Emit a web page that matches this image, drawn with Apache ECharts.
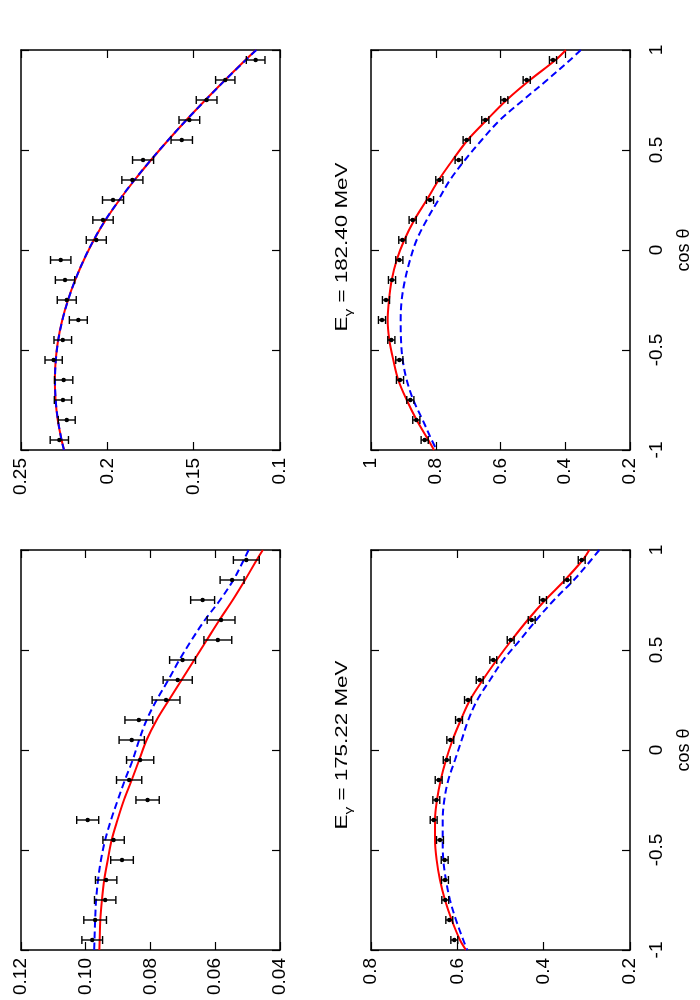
<!DOCTYPE html>
<html><head><meta charset="utf-8">
<script src="https://cdn.jsdelivr.net/npm/echarts@6/dist/echarts.min.js"></script>
<style>html,body{margin:0;padding:0;background:#fff}#c{width:700px;height:1000px}</style>
</head><body><div id="c"></div><script>
// measured points: cos(theta) positions
const cosPoints = [0.95, 0.85, 0.75, 0.65, 0.55, 0.45, 0.35, 0.25, 0.15, 0.05, -0.05, -0.15, -0.25, -0.35, -0.45, -0.55, -0.65, -0.75, -0.85, -0.95];
// curve sample positions
const curveCos = [1, 0.95, 0.85, 0.75, 0.65, 0.55, 0.45, 0.35, 0.25, 0.15, 0.05, -0.05, -0.15, -0.25, -0.35, -0.45, -0.55, -0.65, -0.75, -0.85, -0.95, -1];

// Panel A (top, upper in picture)
const dataA = [0.1141, 0.1317, 0.1425, 0.1525, 0.1569, 0.1793, 0.1855, 0.1967, 0.2025, 0.2064, 0.2270, 0.2245, 0.2235, 0.2168, 0.2258, 0.2311, 0.2253, 0.2257, 0.2235, 0.2278];
const errA = [0.0054, 0.0056, 0.0060, 0.0060, 0.0062, 0.0061, 0.0061, 0.0061, 0.0059, 0.0058, 0.0059, 0.0056, 0.0055, 0.0052, 0.0051, 0.0050, 0.0053, 0.0050, 0.0049, 0.0053];
const redA = [0.1139, 0.1200, 0.1318, 0.1432, 0.1542, 0.1647, 0.1747, 0.1842, 0.1930, 0.2010, 0.2078, 0.2136, 0.2186, 0.2228, 0.2261, 0.2285, 0.2299, 0.2304, 0.2300, 0.2287, 0.2265, 0.2250];
const blueA = [0.1137, 0.1198, 0.1317, 0.1431, 0.1542, 0.1647, 0.1748, 0.1843, 0.1931, 0.2011, 0.2079, 0.2137, 0.2186, 0.2227, 0.2260, 0.2284, 0.2298, 0.2303, 0.2299, 0.2286, 0.2265, 0.2251];

// Panel B (E_gamma = 182.40 MeV)
const dataB = [0.4378, 0.5191, 0.5882, 0.6469, 0.7045, 0.7292, 0.7889, 0.8178, 0.8713, 0.9032, 0.9125, 0.9351, 0.9537, 0.9660, 0.9372, 0.9125, 0.9104, 0.8785, 0.8600, 0.8342];
const errB = [0.011, 0.011, 0.011, 0.011, 0.011, 0.011, 0.011, 0.011, 0.011, 0.011, 0.011, 0.011, 0.011, 0.011, 0.011, 0.011, 0.011, 0.011, 0.011, 0.011];
const redB = [0.398, 0.430, 0.509, 0.581, 0.6426, 0.7013, 0.7477, 0.7909, 0.828, 0.8662, 0.8971, 0.9206, 0.936, 0.9444, 0.9485, 0.9434, 0.9311, 0.9157, 0.8897, 0.859, 0.8229, 0.8054];
const blueB = [0.352, 0.385, 0.456, 0.5296, 0.6015, 0.658, 0.7097, 0.756, 0.792, 0.828, 0.859, 0.8795, 0.895, 0.9052, 0.9083, 0.9073, 0.9021, 0.8897, 0.8693, 0.8403, 0.8125, 0.797];

// Panel C (top, lower in picture)
const dataC = [0.0504, 0.0548, 0.0639, 0.0582, 0.0592, 0.0701, 0.0716, 0.0752, 0.0836, 0.0858, 0.0832, 0.0866, 0.0809, 0.0994, 0.0914, 0.0888, 0.0937, 0.0940, 0.0971, 0.0980];
const errC = [0.0040, 0.0037, 0.0037, 0.0043, 0.0043, 0.0040, 0.0045, 0.0043, 0.0043, 0.0039, 0.0042, 0.0039, 0.0036, 0.0034, 0.0033, 0.0035, 0.0033, 0.0033, 0.0035, 0.0032];
const redC = [0.0453, 0.0472, 0.0508, 0.0546, 0.0587, 0.0626, 0.0665, 0.0704, 0.0743, 0.0781, 0.0812, 0.0835, 0.0858, 0.0882, 0.0902, 0.0920, 0.0932, 0.0943, 0.0950, 0.0955, 0.0957, 0.0958];
const blueC = [0.0497, 0.0512, 0.0544, 0.0585, 0.0632, 0.0673, 0.0711, 0.0745, 0.0781, 0.0812, 0.0835, 0.0855, 0.0879, 0.0901, 0.0922, 0.0940, 0.0953, 0.0962, 0.0968, 0.0971, 0.0973, 0.0974];

// Panel D (E_gamma = 175.22 MeV)
const dataD = [0.3119, 0.3452, 0.4015, 0.4277, 0.4764, 0.5167, 0.5482, 0.5753, 0.5961, 0.6163, 0.6246, 0.6432, 0.6487, 0.6548, 0.6402, 0.6293, 0.6286, 0.6279, 0.6186, 0.6070];
const errD = [0.008, 0.008, 0.008, 0.008, 0.008, 0.008, 0.008, 0.008, 0.008, 0.008, 0.008, 0.008, 0.008, 0.008, 0.008, 0.008, 0.008, 0.008, 0.008, 0.008];
const redD = [0.2943, 0.3096, 0.3506, 0.3962, 0.4370, 0.4741, 0.5088, 0.5412, 0.5707, 0.5920, 0.6110, 0.6263, 0.6385, 0.6471, 0.6517, 0.6517, 0.6479, 0.6402, 0.6286, 0.6130, 0.5938, 0.5799];
const blueD = [0.2711, 0.2900, 0.3300, 0.3760, 0.4170, 0.4548, 0.4935, 0.5243, 0.5537, 0.5746, 0.5900, 0.6054, 0.6209, 0.6302, 0.6339, 0.6339, 0.6325, 0.6263, 0.6170, 0.6031, 0.5862, 0.5769];

// tick labels
const cosTicks = [-1, -0.5, 0, 0.5, 1];
const titleB = 'E_γ = 182.40 MeV';
const titleD = 'E_γ = 175.22 MeV';

const FONT = 'Liberation Sans';
const LABEL_SIZE = 19;
const panels = [
  {left: 21, top: 50, min: 0.10, max: 0.25, interval: 0.05, fmt: null, showCos: false, pts: dataA, err: errA, red: redA, blue: blueA},
  {left: 371, top: 50, min: 0.2, max: 1.0, interval: 0.2, fmt: null, showCos: true, pts: dataB, err: errB, red: redB, blue: blueB},
  {left: 21, top: 550, min: 0.04, max: 0.12, interval: 0.02, fmt: v => v.toFixed(2), showCos: false, pts: dataC, err: errC, red: redC, blue: blueC},
  {left: 371, top: 550, min: 0.2, max: 0.8, interval: 0.2, fmt: null, showCos: true, pts: dataD, err: errD, red: redD, blue: blueD}
];

const grids = [], xAxes = [], yAxes = [], series = [];
const axisLine = {show: true, onZero: false, lineStyle: {color: '#000', width: 1.5}};
const axisTick = {show: true, inside: true, length: 8, lineStyle: {color: '#000', width: 1.2}};
const n = panels.length;
panels.forEach((p, i) => {
  grids.push({left: p.left, top: p.top, width: 259, height: 400, containLabel: false});
  const xBase = {type: 'value', gridIndex: i, min: p.min, max: p.max, interval: p.interval, inverse: true,
    axisLine, axisTick, splitLine: {show: false}};
  xAxes[i] = Object.assign({}, xBase, {position: 'bottom',
    axisLabel: {show: true, rotate: 90, margin: 8, color: '#000', fontSize: LABEL_SIZE, fontFamily: FONT,
      formatter: p.fmt || undefined}});
  xAxes[n + i] = Object.assign({}, xBase, {position: 'top', axisLabel: {show: false}});
  const yBase = {type: 'value', gridIndex: i, min: cosTicks[0], max: cosTicks[cosTicks.length - 1], interval: 0.5,
    axisLine, axisTick, splitLine: {show: false}};
  yAxes[i] = Object.assign({}, yBase, {position: 'right',
    axisLabel: {show: p.showCos, rotate: 90, margin: 17, color: '#000', fontSize: LABEL_SIZE, fontFamily: FONT},
    name: p.showCos ? 'cos θ' : '', nameLocation: 'middle', nameRotate: 90, nameGap: 45,
    nameTextStyle: {color: '#000', fontSize: 18, fontFamily: FONT}});
  yAxes[n + i] = Object.assign({}, yBase, {position: 'left', axisLabel: {show: false}});

  series.push({type: 'line', xAxisIndex: i, yAxisIndex: i, data: p.red.map((v, k) => [v, curveCos[k]]),
    symbol: 'none', smooth: 0.35, lineStyle: {color: '#ff0000', width: 2}, z: 2, silent: true});
  series.push({type: 'line', xAxisIndex: i, yAxisIndex: i, data: p.blue.map((v, k) => [v, curveCos[k]]),
    symbol: 'none', smooth: 0.35, lineStyle: {color: '#0000ff', width: 2, type: [7, 4]}, z: 3, silent: true});
  series.push({type: 'custom', xAxisIndex: i, yAxisIndex: i, z: 4, silent: true,
    data: p.pts.map((v, k) => [v, cosPoints[k], p.err[k]]),
    encode: {x: 0, y: 1},
    renderItem: function (params, api) {
      const v = api.value(0), c = api.value(1), e = api.value(2);
      const pt = api.coord([v, c]);
      const a = api.coord([v - e, c]);
      const b = api.coord([v + e, c]);
      const cap = 4;
      const st = {stroke: '#000', lineWidth: 1.4};
      return {type: 'group', children: [
        {type: 'line', shape: {x1: a[0], y1: pt[1], x2: b[0], y2: pt[1]}, style: st},
        {type: 'line', shape: {x1: a[0], y1: pt[1] - cap, x2: a[0], y2: pt[1] + cap}, style: st},
        {type: 'line', shape: {x1: b[0], y1: pt[1] - cap, x2: b[0], y2: pt[1] + cap}, style: st},
        {type: 'circle', shape: {cx: pt[0], cy: pt[1], r: 2.2}, style: {fill: '#000'}}
      ]};
    }});
});

function titleText(t) {
  const parts = t.split('_');
  const sub = parts[1].charAt(0);
  const rest = parts[1].slice(1);
  return '{a|' + parts[0] + '}{s|' + sub + '}{a|' + rest + '}';
}
function titleGraphic(t, x, y) {
  return {type: 'text', x: x, y: y, rotation: Math.PI / 2, scaleX: 1.4, silent: true,
    style: {text: titleText(t), fill: '#000', align: 'center', verticalAlign: 'middle',
      textAlign: 'center', textVerticalAlign: 'middle',
      rich: {
        a: {fontSize: 16, fontFamily: FONT, fill: '#000', color: '#000', lineHeight: 22, verticalAlign: 'middle'},
        s: {fontSize: 11, fontFamily: FONT, fill: '#000', color: '#000', lineHeight: 11, verticalAlign: 'bottom'}
      }}};
}

const chart = echarts.init(document.getElementById('c'), null, {renderer: 'canvas'});
chart.setOption({
  animation: false,
  backgroundColor: '#fff',
  grid: grids,
  xAxis: xAxes,
  yAxis: yAxes,
  series: series,
  graphic: [titleGraphic(titleB, 343, 247), titleGraphic(titleD, 343, 745)]
});
</script></body></html>
